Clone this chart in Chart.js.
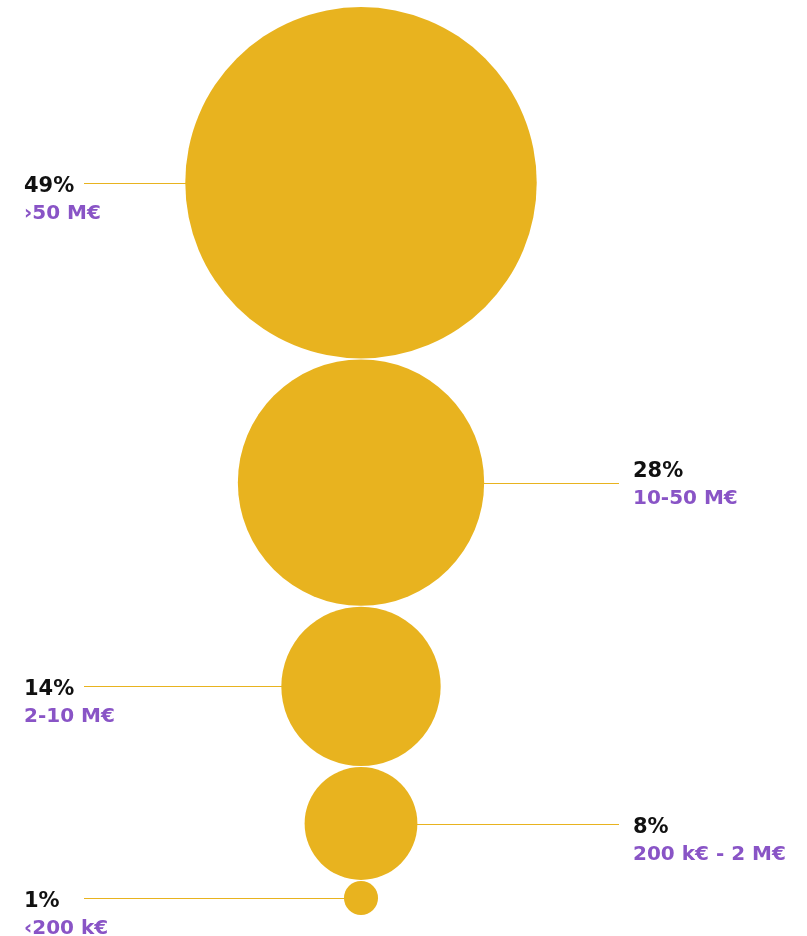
<!DOCTYPE html>
<html>
<head>
<meta charset="utf-8">
<title>Répartition par chiffre d'affaires</title>
<script src="https://cdn.jsdelivr.net/npm/chart.js@4.4.1/dist/chart.umd.min.js"></script>
<style>
    html, body { margin: 0; padding: 0; background: #ffffff; }
    #bubbles { display: block; }
</style>
</head>
<body>
<canvas id="bubbles" width="807" height="936"></canvas>
<script>
// Share of companies per revenue band
const shares = [49, 28, 14, 8, 1];
const bands = ['›50 M€', '10-50 M€', '2-10 M€', '200 k€ - 2 M€', '‹200 k€'];

const colors = {
    gold: '#E8B31F',
    purple: '#8954C6',
    ink: '#111111'
};

// bubble radius grows with the share (soft power scale)
function radiusFor(share) {
    return 13.74 * Math.pow(share, 0.65) + 3.3;
}

// stack the bubbles top to bottom, each one touching the next
const radii = shares.map(radiusFor);
const topY = 7;
const gap = 1;
let cursor = topY;
const points = radii.map(function (r) {
    const y = cursor + r;
    cursor += 2 * r + gap;
    return { x: 0, y: y, r: r };
});

// leader lines + two-line labels, alternating left / right
const leaderLabels = {
    id: 'leaderLabels',
    afterDatasetsDraw(chart, args, opts) {
        const ctx = chart.ctx;
        const meta = chart.getDatasetMeta(0);
        ctx.save();
        meta.data.forEach(function (pt, i) {
            const r = pt.options.radius;
            const left = i % 2 === 0;
            const y = Math.round(pt.y) + 0.5;

            ctx.strokeStyle = colors.gold;
            ctx.lineWidth = 1;
            ctx.beginPath();
            if (left) {
                ctx.moveTo(opts.leftLineX, y);
                ctx.lineTo(pt.x - r + 1, y);
            } else {
                ctx.moveTo(pt.x + r - 1, y);
                ctx.lineTo(opts.rightLineX, y);
            }
            ctx.stroke();

            const tx = left ? opts.leftTextX : opts.rightTextX;
            const nudge = opts.nudge[i] || 0;
            ctx.textAlign = 'left';
            ctx.textBaseline = 'alphabetic';
            ctx.font = 'bold 21px "DejaVu Sans"';
            ctx.fillStyle = colors.ink;
            ctx.fillText(shares[i] + '%', tx, y + 8.5 + nudge);
            ctx.font = 'bold 20px "DejaVu Sans"';
            ctx.fillStyle = colors.purple;
            ctx.fillText(bands[i], tx, y + 35 + nudge);
        });
        ctx.restore();
    }
};

const bubbleCtx = document.getElementById('bubbles').getContext('2d');
const bubbleChart = new Chart(bubbleCtx, {
    type: 'bubble',
    data: {
        labels: bands,
        datasets: [{
            data: points,
            backgroundColor: colors.gold,
            borderWidth: 0,
            hoverRadius: 0,
            clip: false
        }]
    },
    options: {
        responsive: false,
        animation: false,
        layout: {
            autoPadding: false,
            padding: { left: 0, right: 85, top: 0, bottom: 0 }
        },
        scales: {
            x: { display: false, min: -1, max: 1 },
            y: { display: false, min: 0, max: 936, reverse: true }
        },
        plugins: {
            legend: { display: false },
            tooltip: { enabled: false },
            leaderLabels: {
                leftLineX: 84,
                rightLineX: 619,
                leftTextX: 24,
                rightTextX: 633,
                nudge: [0, -15, 0, 0, 0]
            }
        }
    },
    plugins: [leaderLabels]
});
</script>
</body>
</html>
